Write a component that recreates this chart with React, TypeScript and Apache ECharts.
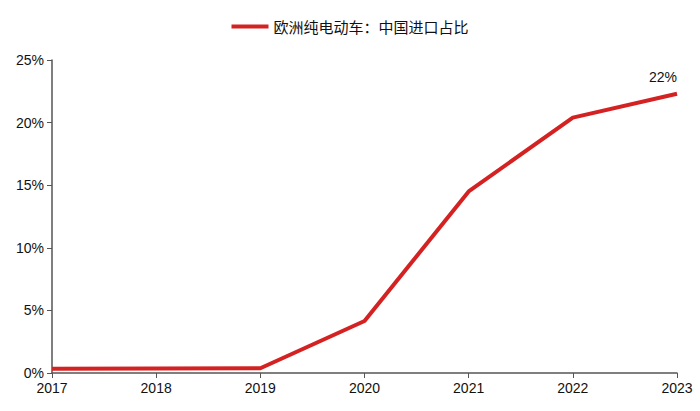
import React, { useEffect, useRef } from "react";
import * as echarts from "echarts";

const years = ["2017", "2018", "2019", "2020", "2021", "2022", "2023"];
const shareValues = [0.33, 0.36, 0.38, 4.15, 14.5, 20.4, 22.3];
const seriesName = "欧洲纯电动车：中国进口占比";
const lastLabel = "22%";

export default function App() {
  const ref = useRef<HTMLDivElement>(null);
  useEffect(() => {
    const chart = echarts.init(ref.current!, undefined, { renderer: "svg" });
    chart.setOption({
      animation: false,
      legend: {
        top: 14,
        left: "center",
        itemWidth: 37,
        itemHeight: 4,
        itemGap: 10,
        icon: "rect",
        textStyle: { fontFamily: "Noto Sans CJK SC", fontSize: 15, color: "#111" },
        data: [seriesName],
      },
      grid: { left: 52, right: 23, top: 60, bottom: 38 },
      xAxis: {
        type: "category",
        data: years,
        boundaryGap: false,
        axisLine: { lineStyle: { color: "#555", width: 1.5 } },
        axisTick: { show: true, alignWithLabel: true, length: 5, lineStyle: { color: "#555" } },
        axisLabel: { fontFamily: "Liberation Sans", fontSize: 14, color: "#111", margin: 8 },
        splitLine: { show: false },
      },
      yAxis: {
        type: "value",
        min: 0,
        max: 25,
        interval: 5,
        axisLine: { show: true, lineStyle: { color: "#555", width: 1.5 } },
        axisTick: { show: true, length: 5, lineStyle: { color: "#555" } },
        axisLabel: { fontFamily: "Liberation Sans", fontSize: 14, color: "#111", formatter: "{value}%", margin: 8 },
        splitLine: { show: false },
      },
      series: [
        {
          name: seriesName,
          type: "line",
          data: shareValues.map((v, i) =>
            i === shareValues.length - 1
              ? {
                  value: v,
                  label: {
                    show: true,
                    position: "top",
                    formatter: lastLabel,
                    distance: 10,
                    offset: [-14, 0],
                    fontFamily: "Liberation Sans",
                    fontSize: 14,
                    color: "#111",
                  },
                }
              : v
          ),
          symbol: "circle",
          symbolSize: 0,
          showSymbol: true,
          lineStyle: { color: "#d42222", width: 4 },
          itemStyle: { color: "#d42222" },
        },
      ],
    });
    return () => chart.dispose();
  }, []);
  return <div ref={ref} style={{ width: 700, height: 411, position: "absolute", left: 0, top: 0 }} />;
}
